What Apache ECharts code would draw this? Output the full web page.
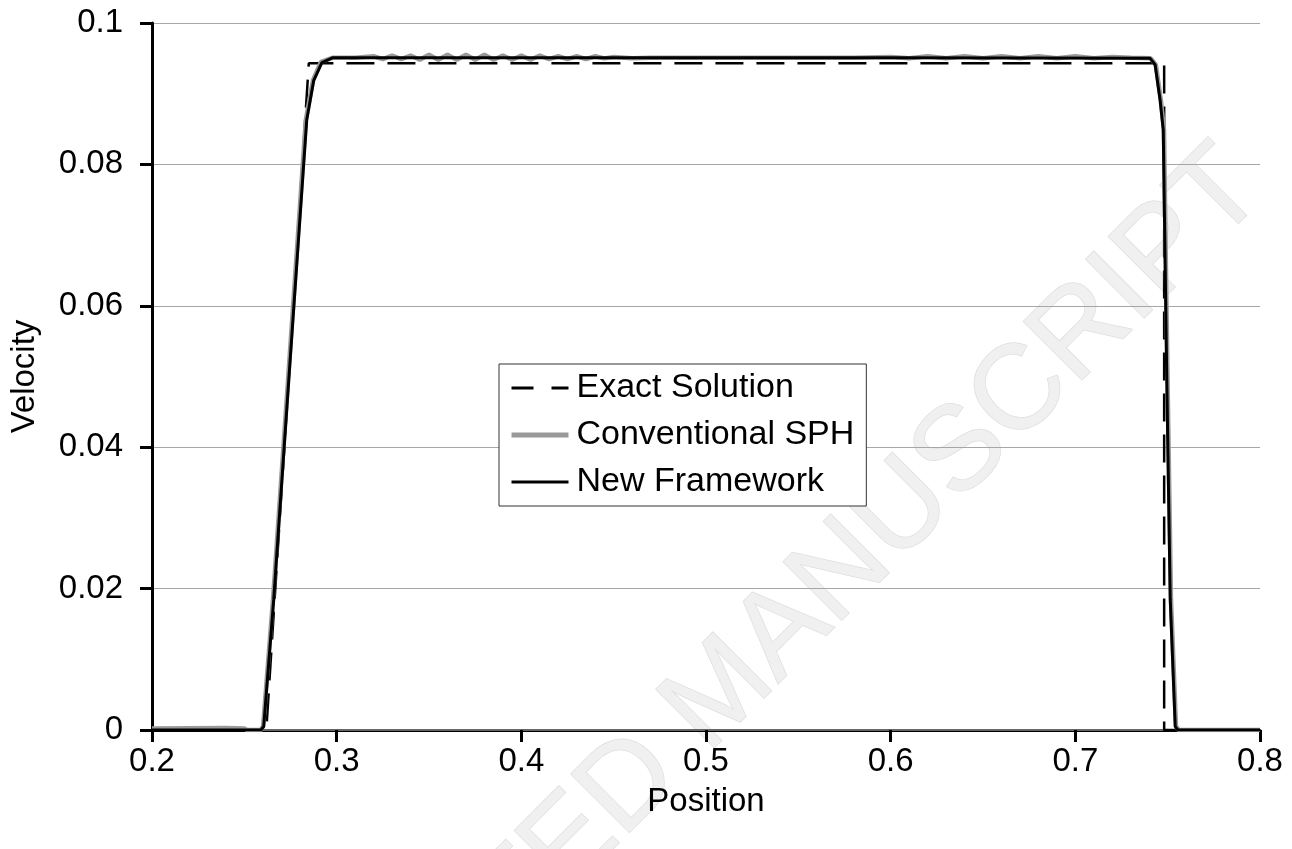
<!DOCTYPE html>
<html>
<head>
<meta charset="utf-8">
<script src="https://cdn.jsdelivr.net/npm/echarts@6/dist/echarts.min.js"></script>
<style>
  html, body { margin: 0; padding: 0; background: #fff; }
  #chart { width: 1292px; height: 849px; }
</style>
</head>
<body>
<div id="chart"></div>
<script>
// exact solution (dashed)
const exactX = [0.2, 0.2619, 0.2849, 0.7481, 0.7481, 0.8];
const exactY = [0, 0, 0.0943, 0.0943, 0, 0];

// conventional SPH (grey)
const convX = [0.2, 0.24, 0.25, 0.2515, 0.259, 0.2602, 0.2655, 0.2738, 0.2833, 0.2872, 0.2915, 0.298,
  0.31, 0.32, 0.325, 0.33, 0.335, 0.34, 0.345, 0.35, 0.355, 0.36, 0.365, 0.37, 0.375, 0.38, 0.385,
  0.39, 0.395, 0.40, 0.405, 0.41, 0.415, 0.42, 0.425, 0.43, 0.435, 0.44, 0.445, 0.45, 0.46, 0.47,
  0.52, 0.58, 0.60, 0.61, 0.62, 0.63, 0.64, 0.65, 0.66, 0.67, 0.68, 0.69, 0.70, 0.71, 0.72, 0.73,
  0.7408, 0.7436, 0.7463, 0.748, 0.7499, 0.7518, 0.7545, 0.756, 0.8];
const convY = [0.0002, 0.0003, 0.0002, 0, 0, 0.0006, 0.0184, 0.05, 0.0863, 0.0919, 0.0945, 0.0951,
  0.0951, 0.0953, 0.0949, 0.0954, 0.0949, 0.0954, 0.0948, 0.0955, 0.0948, 0.0955, 0.0948, 0.0955, 0.0948, 0.0955, 0.0948,
  0.0954, 0.0948, 0.0954, 0.0948, 0.0954, 0.0949, 0.0953, 0.0949, 0.0953, 0.0949, 0.0953, 0.0950, 0.0952, 0.0950, 0.0951,
  0.0951, 0.0951, 0.0952, 0.0950, 0.0953, 0.0950, 0.0953, 0.0950, 0.0953, 0.0950, 0.0953, 0.0950, 0.0953, 0.0950, 0.0952, 0.0951,
  0.0950, 0.0941, 0.0891, 0.0849, 0.05, 0.0184, 0.0005, 0, 0];

// new framework (black)
const newX = [0.2, 0.259, 0.2605, 0.2659, 0.2742, 0.2838, 0.2876, 0.292, 0.298, 0.4, 0.6, 0.7405,
  0.7432, 0.7459, 0.7476, 0.7495, 0.7514, 0.7541, 0.7555, 0.8];
const newY = [0, 0, 0.0005, 0.0184, 0.05, 0.0863, 0.0919, 0.0944, 0.0951, 0.0951, 0.0951, 0.0950,
  0.0941, 0.0891, 0.0849, 0.05, 0.0184, 0.0005, 0, 0];

const seriesNames = ["Exact Solution", "Conventional SPH", "New Framework"];
const font = "'Liberation Sans', Arial, sans-serif";

function pairs(xs, ys) {
  return xs.map((x, i) => [x, ys[i]]);
}

let myChart = echarts.init(document.getElementById("chart"));
let option = {
  animation: false,
  backgroundColor: "#fff",
  grid: { left: 150, right: 32, top: 23, bottom: 119 },
  graphic: [
    {
      type: "text",
      z: -10,
      silent: true,
      x: 1245,
      y: 170,
      rotation: Math.PI / 4,
      style: {
        text: "ACCEPTED MANUSCRIPT",
        font: "120px " + font,
        fill: "#f0f0f0",
        stroke: "#dedede",
        lineWidth: 1.5,
        align: "right",
        verticalAlign: "middle",
      },
    },
  ],
  legend: {
    orient: "vertical",
    left: 499,
    top: 364,
    padding: [7, 12, 7, 10],
    itemGap: 13,
    itemWidth: 57,
    itemHeight: 14,
    backgroundColor: "#fff",
    borderColor: "#333",
    borderWidth: 1,
    borderRadius: 0,
    itemStyle: { opacity: 0 },
    textStyle: { color: "#000", fontSize: 34, fontFamily: font, lineHeight: 34, padding: [0, 0, 0, 3] },
    data: [
      { name: seriesNames[0], lineStyle: { type: [22, 18], width: 3 } },
      { name: seriesNames[1], lineStyle: { width: 5 } },
      { name: seriesNames[2], lineStyle: { width: 3 } },
    ],
  },
  xAxis: [
    {
      type: "value",
      min: 0.2,
      max: 0.8,
      interval: 0.1,
      name: "Position",
      nameLocation: "middle",
      nameGap: 55,
      nameTextStyle: { color: "#000", fontSize: 33, fontFamily: font },
      axisLine: { show: true, onZero: false, lineStyle: { color: "#000", width: 3 } },
      axisTick: { show: true, length: 12, lineStyle: { color: "#000", width: 3 } },
      axisLabel: {
        color: "#000",
        fontSize: 33,
        fontFamily: font,
        margin: 15,
        formatter: (v) => v.toFixed(1),
      },
      splitLine: { show: false },
    },
    {
      type: "value",
      position: "top",
      min: 0.2,
      max: 0.8,
      axisLine: { show: true, lineStyle: { color: "#888", width: 1.5 } },
      axisTick: { show: false },
      axisLabel: { show: false },
      splitLine: { show: false },
    },
  ],
  yAxis: {
    type: "value",
    min: 0,
    max: 0.1,
    interval: 0.02,
    name: "Velocity",
    nameLocation: "middle",
    nameGap: 111,
    nameTextStyle: { color: "#000", fontSize: 33, fontFamily: font },
    axisLine: { show: true, lineStyle: { color: "#000", width: 3 } },
    axisTick: { show: true, length: 12, lineStyle: { color: "#000", width: 3 } },
    axisLabel: {
      color: "#000",
      fontSize: 33,
      fontFamily: font,
      margin: 29,
      formatter: (v) => String(+v.toFixed(3)),
    },
    splitLine: { show: true, lineStyle: { color: "#a6a6a6", width: 1 } },
  },
  series: [
    {
      name: seriesNames[0],
      type: "line",
      symbol: "none",
      z: 3,
      data: pairs(exactX, exactY),
      lineStyle: { color: "#000", width: 2.5, type: [28, 13] },
      itemStyle: { color: "#000" },
    },
    {
      name: seriesNames[1],
      type: "line",
      symbol: "none",
      z: 4,
      data: pairs(convX, convY),
      lineStyle: { color: "#999", width: 4.5 },
      itemStyle: { color: "#999" },
    },
    {
      name: seriesNames[2],
      type: "line",
      symbol: "none",
      z: 5,
      data: pairs(newX, newY),
      lineStyle: { color: "#000", width: 3 },
      itemStyle: { color: "#000" },
    },
  ],
};
myChart.setOption(option);
</script>
</body>
</html>
